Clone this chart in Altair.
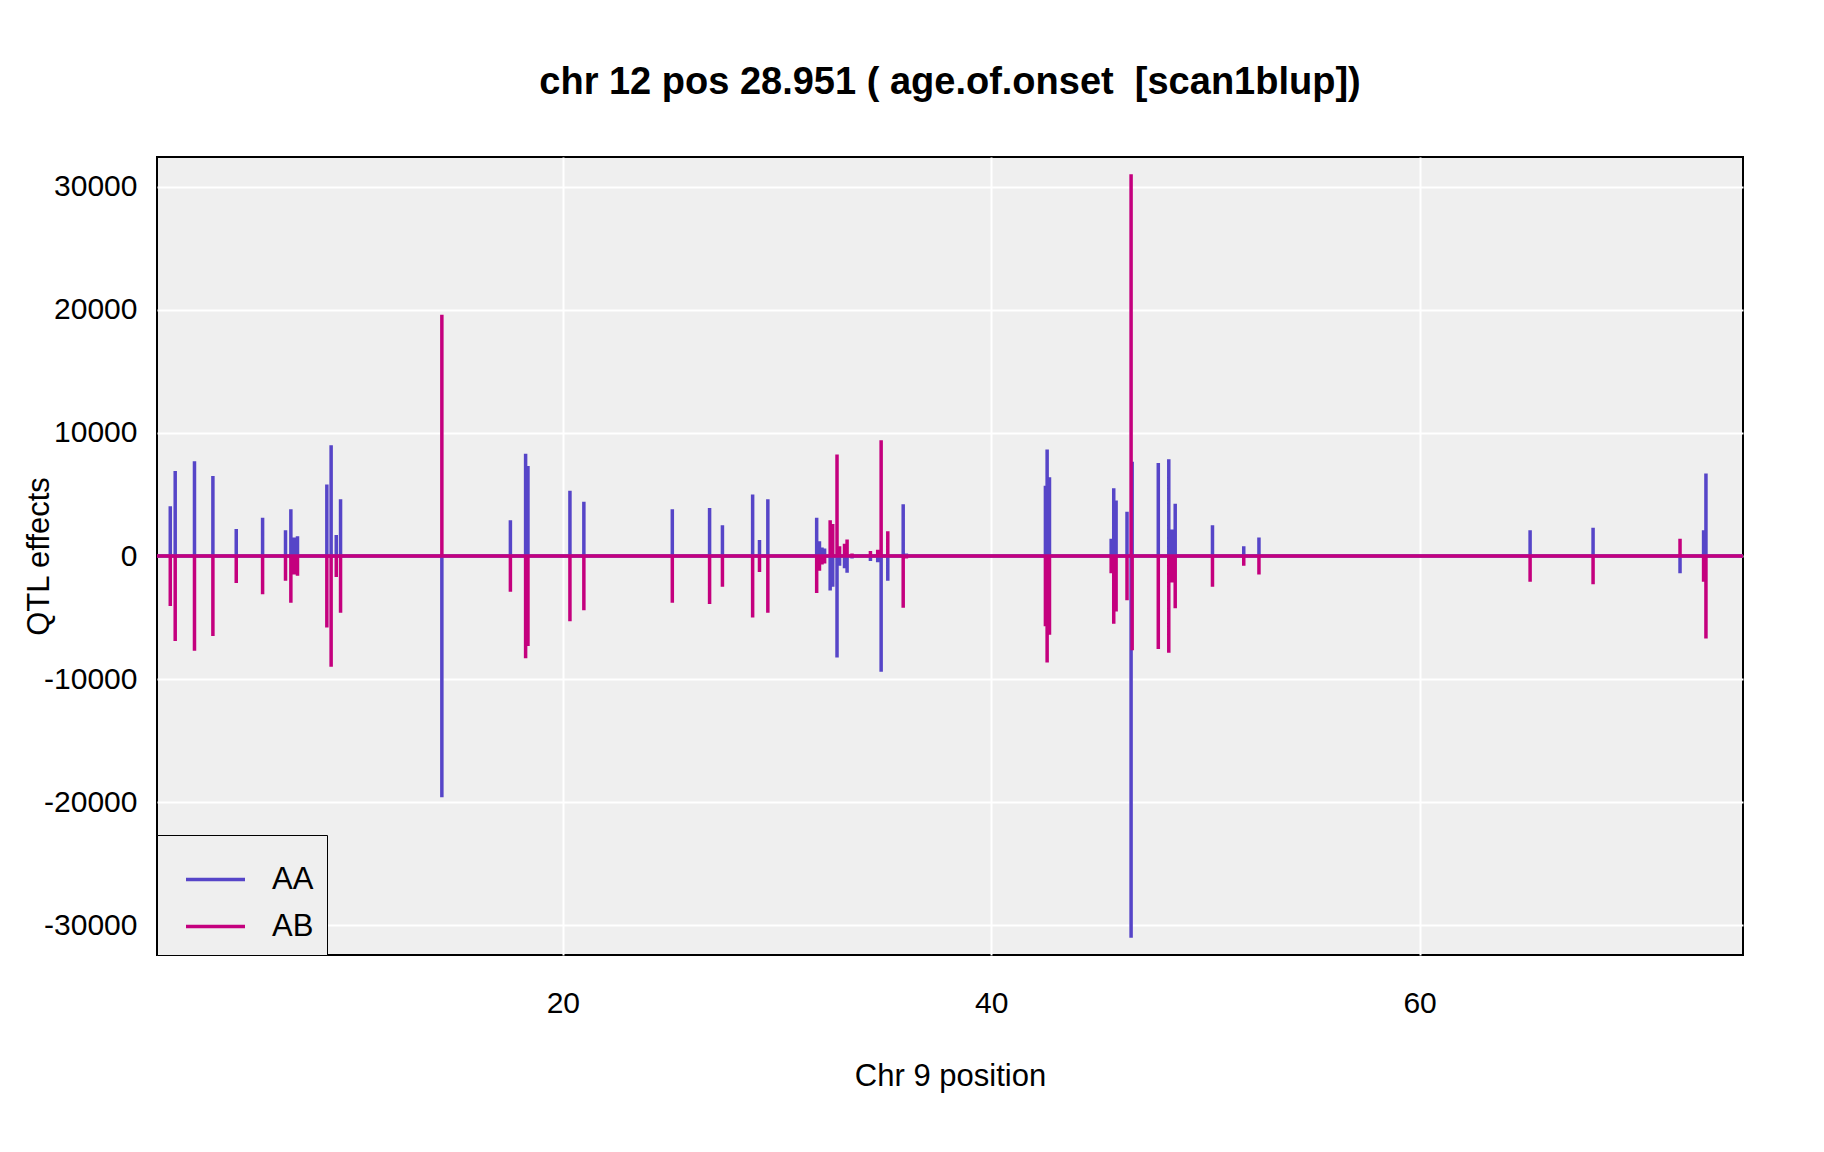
import altair as alt
import pandas as pd

# spike positions (cM on chr 9) and QTL effects
positions = [1.67, 1.90, 2.80, 3.66, 4.75, 5.98, 7.05, 7.30, 7.46, 7.61,
             8.98, 9.18, 9.42, 9.62, 14.35, 17.55, 18.26, 18.37, 20.33, 20.98,
             25.11, 26.85, 27.45, 28.86, 29.18, 29.57, 31.85, 31.98, 32.10, 32.22,
             32.48, 32.60, 32.80, 32.92, 33.15, 33.27, 33.50, 34.36, 34.70, 34.86,
             35.17, 35.89, 36.04, 42.53, 42.61, 42.72, 45.60, 45.72, 45.83, 46.34,
             46.53, 46.58, 47.80, 48.29, 48.44, 48.59, 50.33, 51.79, 52.50, 63.30,
             65.16, 68.10, 72.16, 73.26, 73.37]
aa_effect = [4050, 6900, 7700, 6500, 2200, 3100, 2100, 3800, 1500, 1600,
             5800, 9000, 1700, 4600, -19600, 2900, 8300, 7300, 5300, 4400,
             3800, 3900, 2500, 5000, 1300, 4600, 3100, 1200, 700, 600,
             -2800, -2500, -8250, -800, -1000, -1350, -200, -400, -500, -9400,
             -2000, 4200, 200, 5700, 8650, 6400, 1400, 5500, 4500, 3600,
             -31000, 7650, 7550, 7850, 2150, 4250, 2500, 800, 1500, 100,
             2100, 2300, -1400, 2100, 6700]
ab_effect = [-4050, -6900, -7700, -6500, -2200, -3100, -2000, -3800, -1500, -1600,
             -5800, -9000, -1700, -4600, 19600, -2900, -8300, -7300, -5300, -4400,
             -3800, -3900, -2500, -5000, -1300, -4600, -3000, -1200, -700, -600,
             2900, 2600, 8250, 800, 1000, 1350, 200, 400, 500, 9400,
             2000, -4200, -200, -5700, -8650, -6400, -1400, -5500, -4500, -3600,
             31000, -7650, -7550, -7850, -2150, -4250, -2500, -800, -1500, -100,
             -2100, -2300, 1400, -2100, -6700]
x_start, x_end = 1.05, 75.1

rows = []
for name, vals in (("AA", aa_effect), ("AB", ab_effect)):
    k = 0
    rows.append({"pos": x_start, "effect": 0, "geno": name, "k": k}); k += 1
    for p, v in zip(positions, vals):
        for yv in (0, v, 0):
            rows.append({"pos": p, "effect": yv, "geno": name, "k": k}); k += 1
    rows.append({"pos": x_end, "effect": 0, "geno": name, "k": k})
df = pd.DataFrame(rows)

FONT = "Liberation Sans"

chart = alt.Chart(df).mark_line(strokeWidth=3.5, clip=True).encode(
    x=alt.X("pos:Q", scale=alt.Scale(domain=[x_start, x_end], nice=False, zero=False),
            axis=alt.Axis(title="Chr 9 position", values=[20, 40, 60], labelPadding=33,
                          titlePadding=43)),
    y=alt.Y("effect:Q", scale=alt.Scale(domain=[-32400, 32400], nice=False),
            axis=alt.Axis(title="QTL effects", values=[-30000, -20000, -10000, 0, 10000, 20000, 30000],
                          labelExpr="'' + datum.value", labelPadding=20,
                          titleX=-118, titleBaseline="middle")),
    color=alt.Color("geno:N", scale=alt.Scale(domain=["AA", "AB"], range=["#5645C8", "#C4007E"]),
                    legend=alt.Legend(title=None, orient="bottom-left", offset=0,
                                      strokeColor="black", fillColor="#EFEFEF",
                                      padding=13, symbolType="stroke", symbolSize=3481,
                                      symbolStrokeWidth=3.5, labelFontSize=31, labelOffset=25,
                                      labelFont=FONT, rowPadding=-10, symbolOffset=14)),
    order="k:Q",
).properties(
    width=1586, height=798,
    padding={"left": 15, "top": 56, "right": 10, "bottom": 10},
    title=alt.TitleParams("chr 12 pos 28.951 ( age.of.onset\u00a0 [scan1blup])",
                          fontSize=38, fontWeight="bold", font=FONT, frame="group",
                          anchor="middle", offset=25, baseline="alphabetic"),
).configure_view(
    fill="#EFEFEF", stroke="black", strokeWidth=2
).configure_axis(
    grid=True, gridColor="white", gridWidth=2, domain=False, ticks=False,
    labelFont=FONT, labelFontSize=30, labelColor="black",
    titleFont=FONT, titleFontSize=31, titleFontWeight="normal", titleColor="black",
)

chart.save("out.html", embed_options={"renderer": "svg", "actions": False})
